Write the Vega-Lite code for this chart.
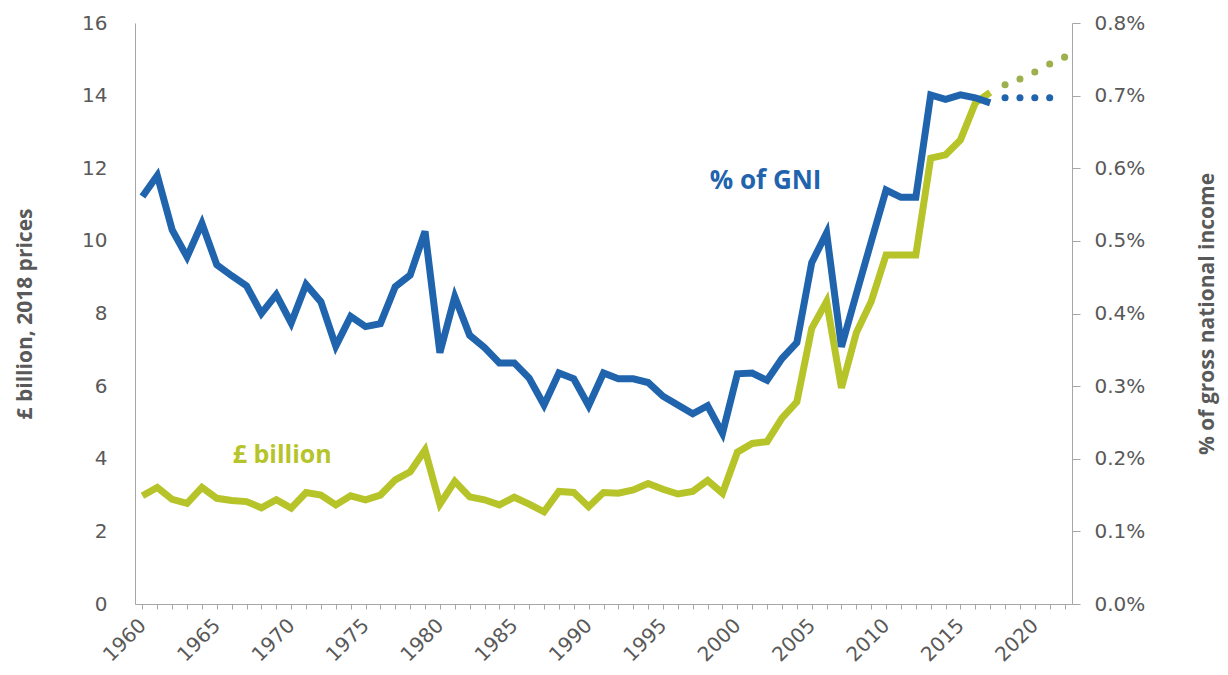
{
  "$schema": "https://vega.github.io/schema/vega-lite/v6.json",
  "width": 937,
  "height": 581,
  "autosize": "none",
  "padding": {"left": 135, "top": 23, "right": 156, "bottom": 71},
  "background": "white",
  "config": {
    "view": {"stroke": null},
    "axis": {
      "grid": false,
      "domainColor": "#A6A6A6",
      "tickColor": "#A6A6A6",
      "labelColor": "#595959",
      "labelFont": "DejaVu Sans",
      "labelFontSize": 20,
      "titleFont": "Open Sans",
      "titleFontWeight": "bold",
      "titleFontSize": 21,
      "titleColor": "#595959"
    }
  },
  "datasets": {
    "main": [
      {"year": 1960, "gbp": 2.98, "pct": 0.00561},
      {"year": 1961, "gbp": 3.21, "pct": 0.00590},
      {"year": 1962, "gbp": 2.88, "pct": 0.00515},
      {"year": 1963, "gbp": 2.77, "pct": 0.00478},
      {"year": 1964, "gbp": 3.21, "pct": 0.00524},
      {"year": 1965, "gbp": 2.91, "pct": 0.00467},
      {"year": 1966, "gbp": 2.85, "pct": 0.00452},
      {"year": 1967, "gbp": 2.82, "pct": 0.00438},
      {"year": 1968, "gbp": 2.65, "pct": 0.00400},
      {"year": 1969, "gbp": 2.87, "pct": 0.00426},
      {"year": 1970, "gbp": 2.64, "pct": 0.00387},
      {"year": 1971, "gbp": 3.07, "pct": 0.00440},
      {"year": 1972, "gbp": 3.00, "pct": 0.00416},
      {"year": 1973, "gbp": 2.73, "pct": 0.00355},
      {"year": 1974, "gbp": 2.98, "pct": 0.00396},
      {"year": 1975, "gbp": 2.87, "pct": 0.00382},
      {"year": 1976, "gbp": 3.00, "pct": 0.00386},
      {"year": 1977, "gbp": 3.42, "pct": 0.00437},
      {"year": 1978, "gbp": 3.64, "pct": 0.00453},
      {"year": 1979, "gbp": 4.24, "pct": 0.00513},
      {"year": 1980, "gbp": 2.75, "pct": 0.00346},
      {"year": 1981, "gbp": 3.38, "pct": 0.00423},
      {"year": 1982, "gbp": 2.95, "pct": 0.00370},
      {"year": 1983, "gbp": 2.87, "pct": 0.00353},
      {"year": 1984, "gbp": 2.73, "pct": 0.00332},
      {"year": 1985, "gbp": 2.94, "pct": 0.00332},
      {"year": 1986, "gbp": 2.75, "pct": 0.00311},
      {"year": 1987, "gbp": 2.54, "pct": 0.00274},
      {"year": 1988, "gbp": 3.10, "pct": 0.00318},
      {"year": 1989, "gbp": 3.07, "pct": 0.00310},
      {"year": 1990, "gbp": 2.68, "pct": 0.00273},
      {"year": 1991, "gbp": 3.07, "pct": 0.00318},
      {"year": 1992, "gbp": 3.05, "pct": 0.00310},
      {"year": 1993, "gbp": 3.14, "pct": 0.00310},
      {"year": 1994, "gbp": 3.32, "pct": 0.00305},
      {"year": 1995, "gbp": 3.16, "pct": 0.00286},
      {"year": 1996, "gbp": 3.03, "pct": 0.00274},
      {"year": 1997, "gbp": 3.10, "pct": 0.00262},
      {"year": 1998, "gbp": 3.40, "pct": 0.00273},
      {"year": 1999, "gbp": 3.05, "pct": 0.00235},
      {"year": 2000, "gbp": 4.18, "pct": 0.00317},
      {"year": 2001, "gbp": 4.42, "pct": 0.00318},
      {"year": 2002, "gbp": 4.47, "pct": 0.00308},
      {"year": 2003, "gbp": 5.12, "pct": 0.00338},
      {"year": 2004, "gbp": 5.57, "pct": 0.00360},
      {"year": 2005, "gbp": 7.59, "pct": 0.00470},
      {"year": 2006, "gbp": 8.33, "pct": 0.00511},
      {"year": 2007, "gbp": 5.95, "pct": 0.00354},
      {"year": 2008, "gbp": 7.47, "pct": 0.00427},
      {"year": 2009, "gbp": 8.33, "pct": 0.00499},
      {"year": 2010, "gbp": 9.61, "pct": 0.00570},
      {"year": 2011, "gbp": 9.61, "pct": 0.00560},
      {"year": 2012, "gbp": 9.61, "pct": 0.00560},
      {"year": 2013, "gbp": 12.28, "pct": 0.00701},
      {"year": 2014, "gbp": 12.37, "pct": 0.00695},
      {"year": 2015, "gbp": 12.78, "pct": 0.00701},
      {"year": 2016, "gbp": 13.80, "pct": 0.00697},
      {"year": 2017, "gbp": 14.09, "pct": 0.00690}
    ],
    "projGbp": [
      {"year": 2018, "gbp": 14.30},
      {"year": 2019, "gbp": 14.46},
      {"year": 2020, "gbp": 14.65},
      {"year": 2021, "gbp": 14.87},
      {"year": 2022, "gbp": 15.06}
    ],
    "projPct": [
      {"year": 2018, "pct": 0.00697},
      {"year": 2019, "pct": 0.00697},
      {"year": 2020, "pct": 0.00697},
      {"year": 2021, "pct": 0.00697}
    ],
    "labelGbp": [{"year": 1969.4, "gbp": 4.09, "text": "£ billion"}],
    "labelPct": [{"year": 2001.9, "pct": 0.00583, "text": "% of GNI"}]
  },
  "encoding": {
    "x": {
      "field": "year",
      "type": "quantitative",
      "scale": {"domain": [1959.5, 2022.5], "nice": false, "zero": false},
      "axis": {
        "title": null,
        "values": [1960,1961,1962,1963,1964,1965,1966,1967,1968,1969,1970,1971,1972,1973,1974,1975,1976,1977,1978,1979,1980,1981,1982,1983,1984,1985,1986,1987,1988,1989,1990,1991,1992,1993,1994,1995,1996,1997,1998,1999,2000,2001,2002,2003,2004,2005,2006,2007,2008,2009,2010,2011,2012,2013,2014,2015,2016,2017,2018,2019,2020,2021,2022],
        "format": "d",
        "labelExpr": "datum.value % 5 === 0 ? datum.label : ''",
        "labelAngle": -45,
        "labelAlign": "right",
        "labelBaseline": "middle",
        "tickSize": 5,
        "labelPadding": 13,
        "labelFlush": false,
        "labelOverlap": false
      }
    }
  },
  "layer": [
    {
      "encoding": {
        "y": {
          "field": "gbp",
          "type": "quantitative",
          "scale": {"domain": [0, 16], "nice": false},
          "axis": {
            "orient": "left",
            "title": "£ billion, 2018 prices",
            "values": [0, 2, 4, 6, 8, 10, 12, 14, 16],
            "ticks": false,
            "tickSize": 0,
            "labelPadding": 28,
            "titlePadding": 46
          }
        }
      },
      "layer": [
        {
          "data": {"name": "main"},
          "mark": {"type": "line", "color": "#B6C42A", "strokeWidth": 7, "strokeJoin": "miter"}
        },
        {
          "data": {"name": "projGbp"},
          "mark": {"type": "circle", "color": "#9DB04E", "opacity": 1, "size": 50}
        },
        {
          "data": {"name": "labelGbp"},
          "mark": {"type": "text", "color": "#B6C42A", "font": "Open Sans", "fontWeight": "bold", "fontSize": 25, "align": "center", "baseline": "middle"},
          "encoding": {"text": {"field": "text"}}
        }
      ]
    },
    {
      "encoding": {
        "y": {
          "field": "pct",
          "type": "quantitative",
          "scale": {"domain": [0, 0.008], "nice": false},
          "axis": {
            "orient": "right",
            "title": "% of gross national income",
            "values": [0, 0.001, 0.002, 0.003, 0.004, 0.005, 0.006, 0.007, 0.008],
            "format": ".1%",
            "tickSize": 8,
            "labelPadding": 14,
            "titleAngle": 270,
            "titleBaseline": "top",
            "titlePadding": 52
          }
        }
      },
      "layer": [
        {
          "data": {"name": "main"},
          "mark": {"type": "line", "color": "#1F64AD", "strokeWidth": 7, "strokeJoin": "miter"}
        },
        {
          "data": {"name": "projPct"},
          "mark": {"type": "circle", "color": "#1F64AD", "opacity": 1, "size": 50}
        },
        {
          "data": {"name": "labelPct"},
          "mark": {"type": "text", "color": "#1F64AD", "font": "Open Sans", "fontWeight": "bold", "fontSize": 26, "align": "center", "baseline": "middle"},
          "encoding": {"text": {"field": "text"}}
        }
      ]
    }
  ],
  "resolve": {"scale": {"y": "independent"}}
}
